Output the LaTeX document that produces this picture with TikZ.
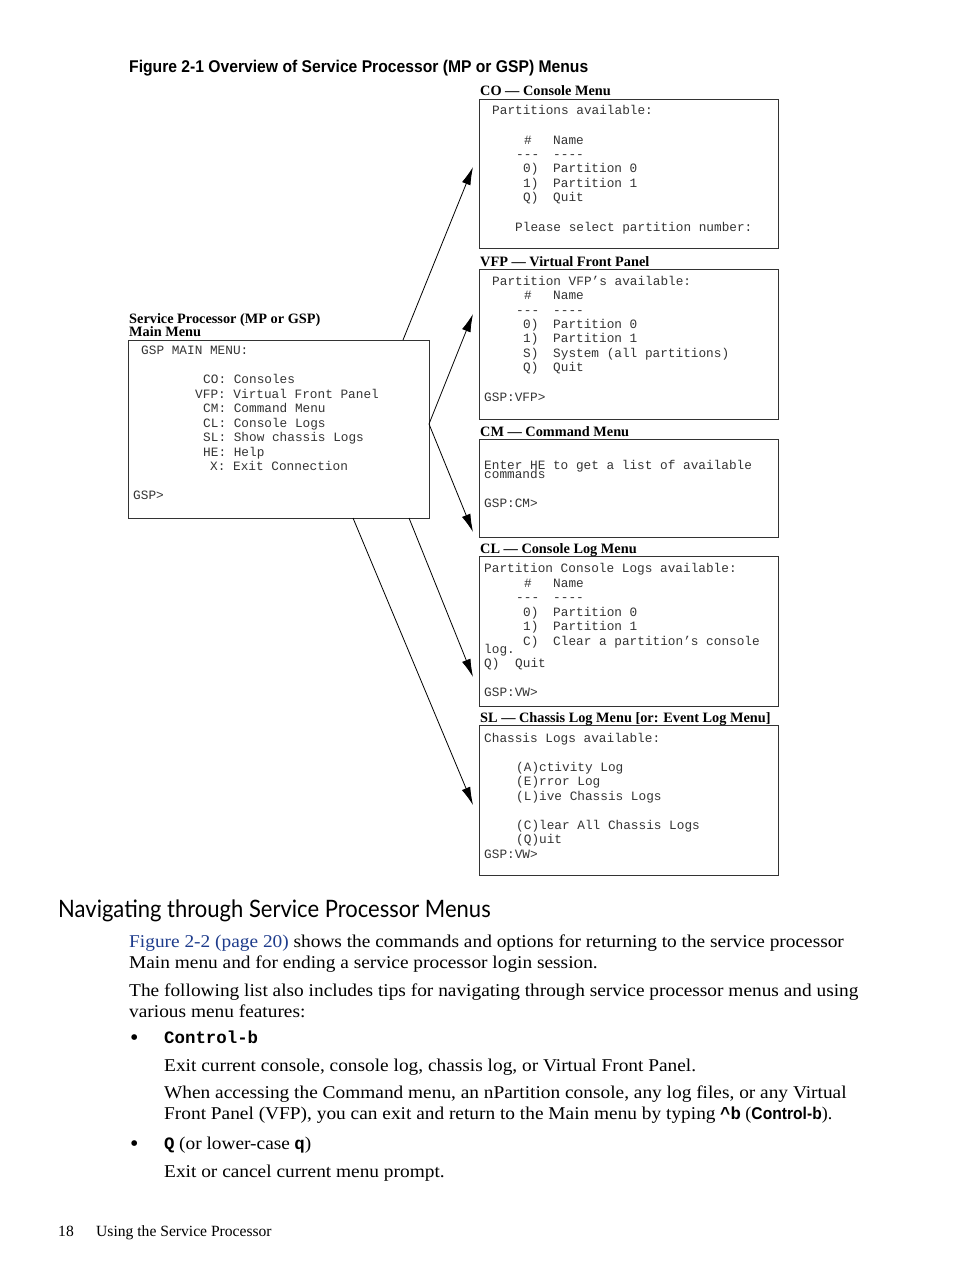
\documentclass[tikz,border=0pt]{standalone}
\usepackage{fontspec}
\usepackage{graphicx}
\usetikzlibrary{arrows.meta}
\setmainfont{Liberation Serif}
\setmonofont{Liberation Mono}
\newfontfamily\sansf{Liberation Sans}
\newfontfamily\headf{Lato}
\definecolor{linkblue}{RGB}{30,60,140}
\newcounter{ln}
\newcommand\ml[3]{\stepcounter{ln}\node[mono] (t\theln) at (#1,#2) {#3};}
\newcommand\bx[1]{\scalebox{1.075}[1]{#1}}
\newcommand\mb[1]{{\ttfamily\bfseries\fontsize{17.4}{21}\selectfont #1}}
\begin{document}
\begin{tikzpicture}[x=1pt,y=-1pt,
  mono/.style={font=\ttfamily\fontsize{12.75}{14}\selectfont, anchor=base west, inner sep=0pt, text=black!80},
  lbl/.style={font=\bfseries\fontsize{14.3}{14}\selectfont, anchor=base west, inner sep=0pt},
  menubox/.style={draw=black!80, line width=0.9pt, minimum width=299pt, minimum height=#1, inner sep=0pt, anchor=north west},
  body/.style={font=\fontsize{18}{21}\selectfont, anchor=base west, inner sep=0pt},
  bul/.style={font=\fontsize{24}{21}\selectfont, anchor=base west, inner sep=0pt},
  conn/.style={-{Latex[length=18pt,width=9pt]}, line width=0.8pt}]
\fill[white] (0,0) rectangle (954,1271);
\useasboundingbox (0,0) rectangle (954,1271);

% title
\node[anchor=base west, inner sep=0pt, font=\sansf\bfseries\fontsize{17}{17}\selectfont] (title) at (129,73) {\scalebox{0.922}[1]{Figure 2-1 Overview of Service Processor (MP or GSP) Menus}};

% boxes
\node[menubox=149pt] (co) at (479,99) {};
\node[menubox=150pt] (vfp) at (479,269) {};
\node[menubox=98pt] (cm) at (479,439) {};
\node[menubox=150pt] (cl) at (479,556) {};
\node[menubox=150pt] (sl) at (479,725) {};
\node[draw=black!80, line width=0.9pt, minimum width=301pt, minimum height=178pt, inner sep=0pt, anchor=north west] (main) at (128,340) {};

% labels
\node[lbl] (colbl) at (480,96) {CO — Console Menu};
\node[lbl] (vfplbl) at (480,266) {VFP — Virtual Front Panel};
\node[lbl] (cmlbl) at (480,436) {CM — Command Menu};
\node[lbl] (cllbl) at (480,553) {CL — Console Log Menu};
\node[lbl] (sllbl) at (480,722) {SL — Chassis Log Menu [or: Event Log Menu]};
\node[lbl] (mainlbl1) at (129,323) {Service Processor (MP or GSP)};
\node[lbl] (mainlbl2) at (129,336) {Main Menu};

% CO
\ml{492}{115}{Partitions available:}
\ml{524}{144}{\#} \ml{553}{144}{Name}
\ml{516}{158}{---} \ml{553}{158}{----}
\ml{523}{172}{0)} \ml{553}{172}{Partition 0}
\ml{523}{187}{1)} \ml{553}{187}{Partition 1}
\ml{523}{201}{Q)} \ml{553}{201}{Quit}
\ml{515}{231}{Please select partition number:}
% VFP
\ml{492}{285}{Partition VFP’s available:}
\ml{524}{299}{\#} \ml{553}{299}{Name}
\ml{516}{314}{---} \ml{553}{314}{----}
\ml{523}{328}{0)} \ml{553}{328}{Partition 0}
\ml{523}{342}{1)} \ml{553}{342}{Partition 1}
\ml{523}{357}{S)} \ml{553}{357}{System (all partitions)}
\ml{523}{371}{Q)} \ml{553}{371}{Quit}
\ml{484}{401}{GSP:VFP>}
% CM
\ml{484}{469}{Enter HE to get a list of available}
\ml{484}{478}{commands}
\ml{484}{507}{GSP:CM>}
% CL
\ml{484}{572}{Partition Console Logs available:}
\ml{524}{587}{\#} \ml{553}{587}{Name}
\ml{516}{601}{---} \ml{553}{601}{----}
\ml{523}{616}{0)} \ml{553}{616}{Partition 0}
\ml{523}{630}{1)} \ml{553}{630}{Partition 1}
\ml{523}{645}{C)} \ml{553}{645}{Clear a partition’s console}
\ml{484}{653}{log.}
\ml{484}{667}{Q)} \ml{515}{667}{Quit}
\ml{484}{696}{GSP:VW>}
% SL
\ml{484}{742}{Chassis Logs available:}
\ml{516}{771}{(A)ctivity Log}
\ml{516}{785}{(E)rror Log}
\ml{516}{800}{(L)ive Chassis Logs}
\ml{516}{829}{(C)lear All Chassis Logs}
\ml{516}{843}{(Q)uit}
\ml{484}{858}{GSP:VW>}
% main
\ml{141}{354}{GSP MAIN MENU:}
\ml{203}{383}{CO: Consoles}
\ml{195}{398}{VFP: Virtual Front Panel}
\ml{203}{412}{CM: Command Menu}
\ml{203}{427}{CL: Console Logs}
\ml{203}{441}{SL: Show chassis Logs}
\ml{203}{456}{HE: Help}
\ml{210}{470}{X: Exit Connection}
\ml{133}{499}{GSP>}

% connectors
\coordinate (s1) at (403,340); \coordinate (e1) at (473,167);
\coordinate (s2) at (429,424); \coordinate (e2) at (473,314);
\coordinate (e3) at (473,532);
\coordinate (s4) at (409,518); \coordinate (e4) at (473,677);
\coordinate (s5) at (353,518); \coordinate (e5) at (473,805);
\draw[conn] (s1) -- (e1);
\draw[conn] (s2) -- (e2);
\draw[conn] (s2) -- (e3);
\draw[conn] (s4) -- (e4);
\draw[conn] (s5) -- (e5);

% body text
\node[font=\headf\fontsize{24}{24}\selectfont, anchor=base west, inner sep=0pt] (head) at (58,917) {\scalebox{0.917}[1]{Navigating through Service Processor Menus}};
\node[body] (p1a) at (129,947) {\bx{\textcolor{linkblue}{Figure 2-2 (page 20)} shows the commands and options for returning to the service processor}};
\node[body] (p1b) at (129,968) {\bx{Main menu and for ending a service processor login session.}};
\node[body] (p2a) at (129,996) {\bx{The following list also includes tips for navigating through service processor menus and using}};
\node[body] (p2b) at (129,1017) {\bx{various menu features:}};
\node[bul] (b1) at (130,1045) {•};
\node[body] (c1) at (164,1043) {\mb{Control-b}};
\node[body] (c2) at (164,1071) {\bx{Exit current console, console log, chassis log, or Virtual Front Panel.}};
\node[body] (c3) at (164,1098) {\bx{When accessing the Command menu, an nPartition console, any log files, or any Virtual}};
\node[body] (c4) at (164,1119) {\bx{Front Panel (VFP), you can exit and return to the Main menu by typing} \mb{\textasciicircum b} ({\sansf\bfseries\fontsize{17}{21}\selectfont\scalebox{0.92}[1]{Control-b}}).};
\node[bul] (b2) at (130,1151) {•};
\node[body] (q1) at (164,1149) {\mb{Q} \bx{(or lower-case} \mb{q}\bx{)}};
\node[body] (q2) at (164,1177) {\bx{Exit or cancel current menu prompt.}};
\node[font=\fontsize{15.6}{15}\selectfont, anchor=base west, inner sep=0pt] (f1) at (58,1236) {18};
\node[font=\fontsize{15.6}{15}\selectfont, anchor=base west, inner sep=0pt] (f2) at (96,1236) {Using the Service Processor};
\end{tikzpicture}
\end{document}
